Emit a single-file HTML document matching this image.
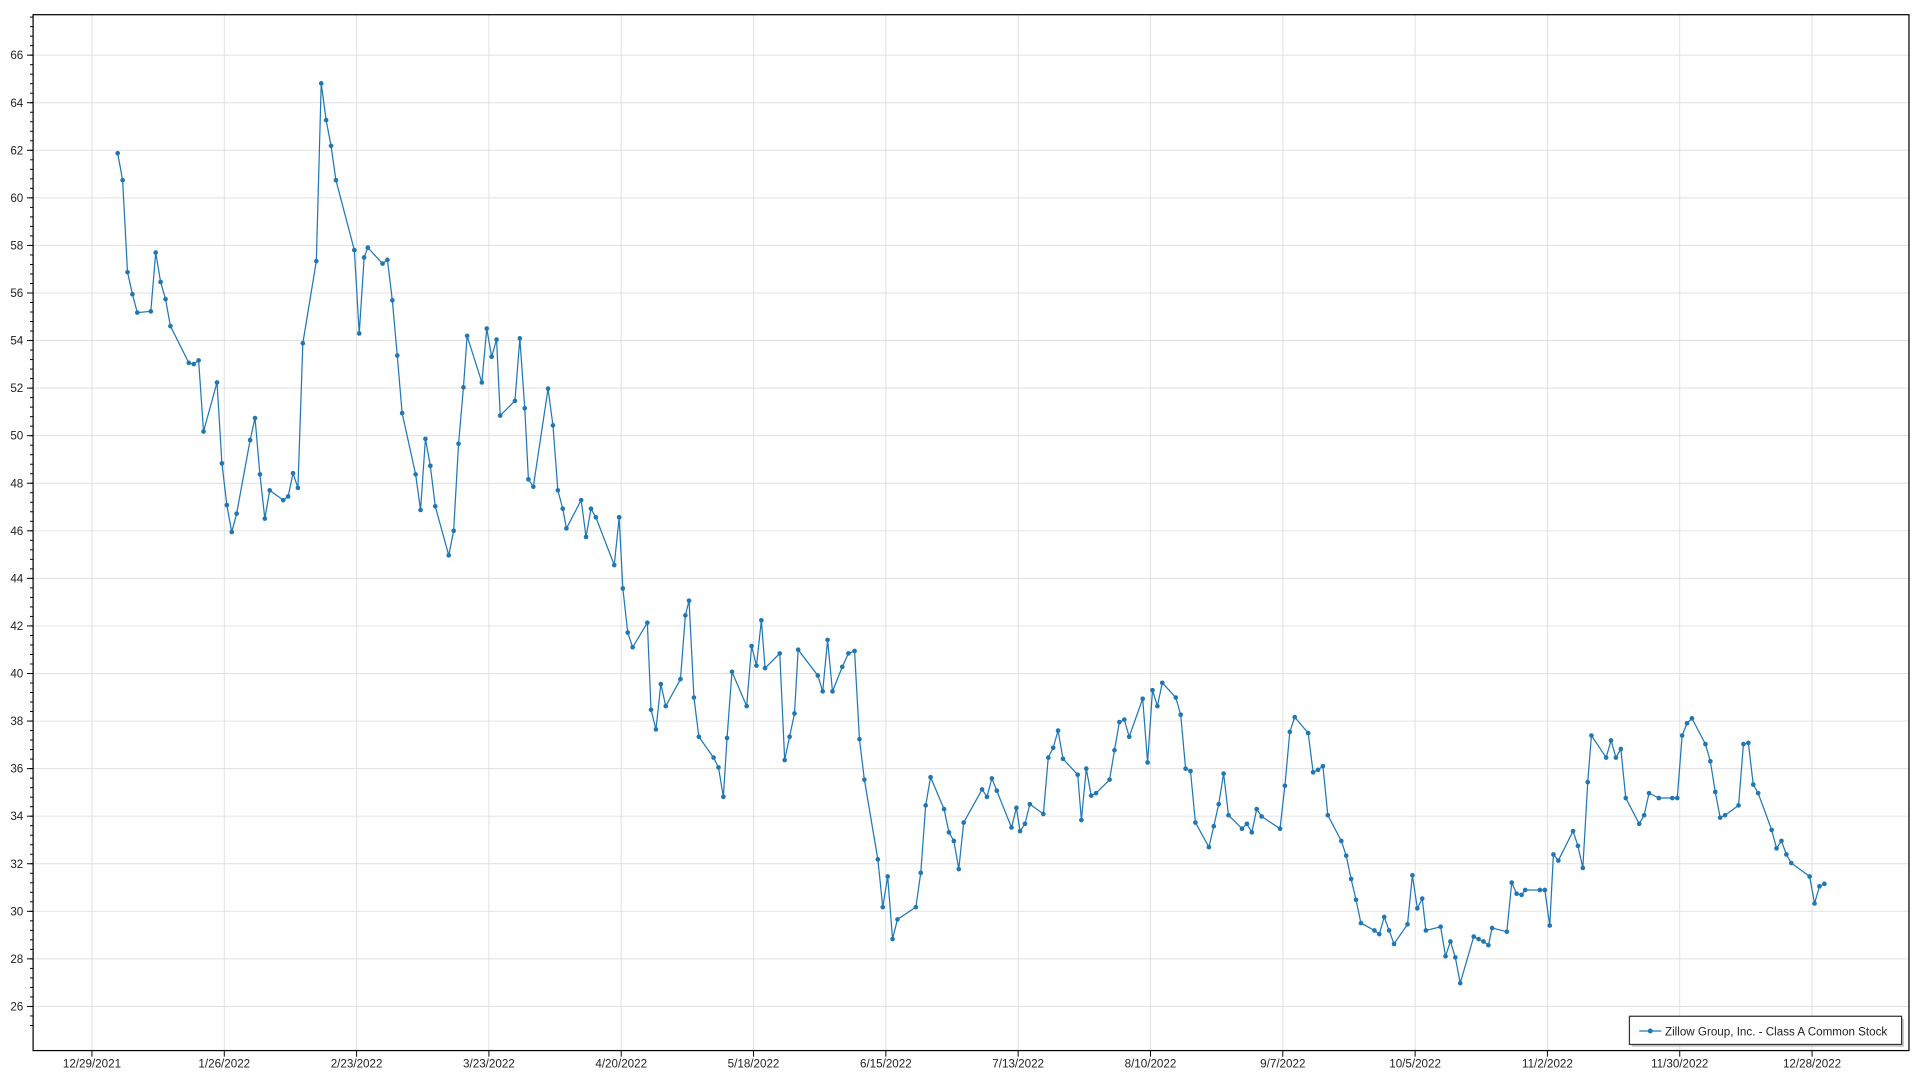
<!DOCTYPE html>
<html><head><meta charset="utf-8"><style>
html,body{margin:0;padding:0;background:#fff;}
svg{display:block;}
text{font-family:"Liberation Sans","DejaVu Sans",sans-serif;fill:#222;}
</style></head><body>
<svg id="s" width="1920" height="1080" viewBox="0 0 1566 881" preserveAspectRatio="none" xmlns="http://www.w3.org/2000/svg">
<g id="grid" stroke="#e0e0e0" stroke-width="0.8"></g>
<rect x="27" y="12" width="1530" height="845" fill="none" stroke="#000" stroke-width="1"/>
<g id="ticks" stroke="#000" stroke-width="0.8"></g>
<g id="labels" font-size="9.5"></g>
<polyline id="line" fill="none" stroke="#1f77b4" stroke-width="1"/>
<g id="dots" fill="#1f77b4"></g>
<rect x="1331" y="831" width="222" height="23" fill="#999" opacity="0.5"/>
<rect x="1329" y="829" width="222" height="23" fill="#fff" stroke="#333" stroke-width="1"/>
<line x1="1337" y1="841" x2="1355" y2="841" stroke="#1f77b4" stroke-width="1"/>
<circle cx="1346" cy="841" r="2" fill="#1f77b4"/>
<text x="1358" y="844.5" font-size="9.5">Zillow Group, Inc. - Class A Common Stock</text>
</svg>
<script>
const NS="http://www.w3.org/2000/svg";
function el(p,t,a,txt){const e=document.createElementNS(NS,t);for(const k in a)e.setAttribute(k,a[k]);if(txt!==undefined)e.textContent=txt;document.getElementById(p).appendChild(e);}
const Y=v=>45+(66-v)*19.4;
for(let v=26;v<=66;v+=2){const y=Y(v);el("grid","line",{x1:27,x2:1557,y1:y,y2:y});el("ticks","line",{x1:22,x2:27,y1:y,y2:y});el("labels","text",{x:19,y:y+3.3,"text-anchor":"end"},v);}
for(let v=25.2;v<=67.8;v+=0.4){const y=Y(v);if(y<12||y>857)continue;el("ticks","line",{x1:24.5,x2:27,y1:y,y2:y});}
const dl=["12/29/2021","1/26/2022","2/23/2022","3/23/2022","4/20/2022","5/18/2022","6/15/2022","7/13/2022","8/10/2022","9/7/2022","10/5/2022","11/2/2022","11/30/2022","12/28/2022"];
dl.forEach((d,i)=>{const x=75+i*107.92;el("grid","line",{x1:x,x2:x,y1:12,y2:857});el("ticks","line",{x1:x,x2:x,y1:857,y2:862});el("labels","text",{x:x,y:871,"text-anchor":"middle"},d);});
const p=[96,125,100,147,104,222,108,240,112,255,123,254,127,206,131,230,135,244,139,266,154,296,158,297,162,294,166,352,177,312,181,378,185,412,189,434,193,419,204,359,208,341,212,387,216,423,220,400,231,408,235,405,239,386,243,398,247,280,258,213,262,68,266,98,270,119,274,147,289,204,293,272,297,210,300,202,312,215,316,212,320,245,324,290,328,337,339,387,343,416,347,358,351,380,355,413,366,453,370,433,374,362,378,316,381,274,393,312,397,268,401,291,405,277,408,339,420,327,424,276,428,333,431,391,435,397,447,317,451,347,455,400,459,415,462,431,474,408,478,438,482,415,486,422,501,461,505,422,508,480,512,516,516,528,528,508,531,579,535,595,539,558,543,576,555,554,559,502,562,490,566,569,570,601,582,618,586,626,590,650,593,602,597,548,609,576,613,527,617,543,621,506,624,545,636,533,640,620,644,601,648,582,651,530,667,551,671,564,675,522,679,564,687,544,692,533,697,531,701,603,705,636,716,701,720,740,724,715,728,766,732,750,747,740,751,712,755,657,759,634,770,660,774,679,778,686,782,709,786,671,801,644,805,650,809,635,813,645,825,675,829,659,832,678,836,672,840,656,851,664,855,618,859,610,863,596,867,619,879,632,882,669,886,627,890,649,894,647,905,636,909,612,913,589,917,587,921,601,932,570,936,622,940,563,944,576,948,557,959,569,963,583,967,627,971,629,975,671,986,691,990,674,994,656,998,631,1002,665,1013,676,1017,672,1021,679,1025,660,1029,666,1044,676,1048,641,1052,597,1056,585,1067,598,1071,630,1075,628,1079,625,1083,665,1094,686,1098,698,1102,717,1106,734,1110,753,1121,759,1125,762,1129,748,1133,759,1137,770,1148,754,1152,714,1156,741,1160,733,1163,759,1175,756,1179,780,1183,768,1187,781,1191,802,1202,764,1206,766,1210,768,1214,771,1217,757,1229,760,1233,720,1237,729,1241,730,1244,726,1256,726,1260,726,1264,755,1267,697,1271,702,1283,678,1287,690,1291,708,1295,638,1298,600,1310,618,1314,604,1318,618,1322,611,1326,651,1337,672,1341,665,1345,647,1353,651,1364,651,1368,651,1372,600,1376,590,1380,586,1391,607,1395,621,1399,646,1403,667,1407,665,1418,657,1422,607,1426,606,1430,640,1434,647,1445,677,1449,692,1453,686,1457,697,1461,704,1476,715,1480,737,1484,723,1488,721];
let pts=[];for(let i=0;i<p.length;i+=2){pts.push(p[i]+","+p[i+1]);el("dots","circle",{cx:p[i],cy:p[i+1],r:1.9});}
document.getElementById("line").setAttribute("points",pts.join(" "));
</script>
</body></html>
